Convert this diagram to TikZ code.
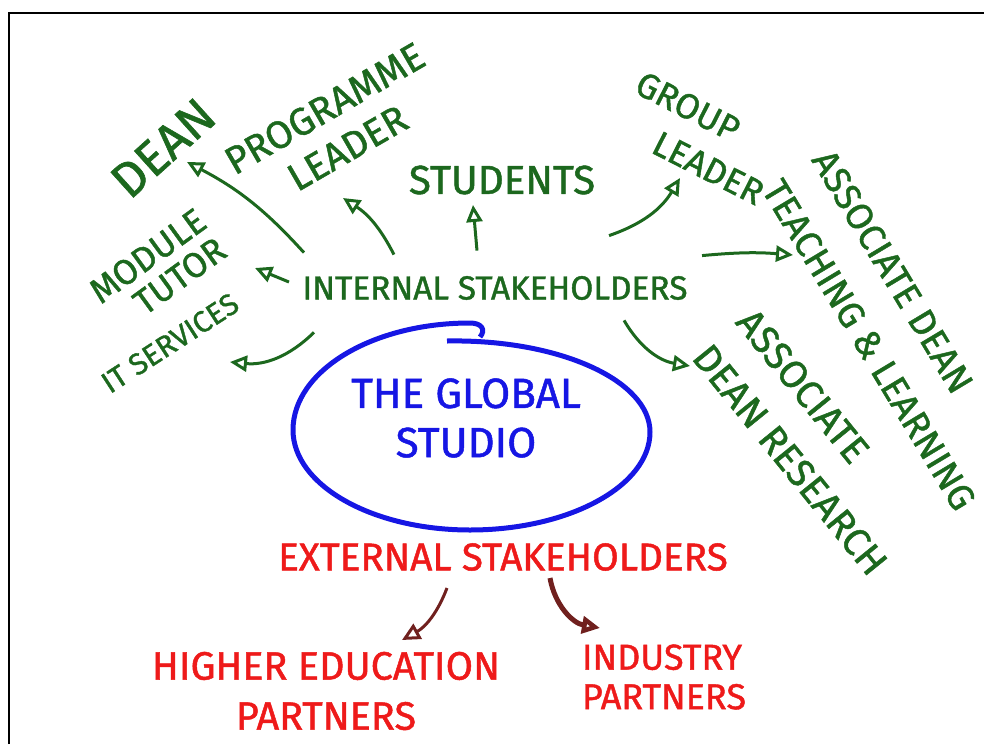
\documentclass[tikz,border=0pt]{standalone}
\usepackage{fontspec}
\setmainfont{Fira Sans}
\newfontfamily\penfont{Fira Sans}[FakeBold=1.2]
\usetikzlibrary{arrows.meta}
\definecolor{pengreen}{RGB}{28,104,30}
\definecolor{penblue}{RGB}{22,22,228}
\definecolor{penred}{RGB}{238,26,26}
\definecolor{penbrown}{RGB}{112,32,30}

\begin{document}
\begin{tikzpicture}[x=0.2mm,y=-0.2mm,line width=0.6mm,
  grn/.style={text=pengreen,inner sep=0pt,font=\penfont\fontsize{#1}{#1}\selectfont},
  rd/.style={text=penred,inner sep=0pt,font=\penfont\fontsize{#1}{#1}\selectfont},
  arr/.style={draw=pengreen,-{Triangle[open,length=3.4mm,width=3.2mm]}},
  darr/.style={draw=penbrown,-{Triangle[open,length=3.6mm,width=3.4mm]}}]
  \useasboundingbox (0,0) rectangle (984,744);
  \draw[line width=0.4mm] (9,744) -- (9,13) -- (984,13);

  \node[grn=19]                                  (int)   at (495,288) {INTERNAL STAKEHOLDERS};
  \node[grn=28,rotate=42]                        (dean)  at (163,148) {DEAN};
  \node[grn=22,rotate=30,align=center]           (prog)  at (336,128) {PROGRAMME\\[4pt]LEADER};
  \node[grn=23]                                  (stud)  at (502,180) {STUDENTS};
  \node[grn=20,rotate=-27,align=left]            (group) at (700,138) {GROUP\\[6pt]\hspace*{1.2em}LEADER};
  \node[grn=21,rotate=-59,align=left]            (adtl)  at (894,330) {ASSOCIATE DEAN\\[12pt]TEACHING \& LEARNING};
  \node[grn=22,rotate=-51,align=left]            (adr)   at (812,442) {ASSOCIATE\\[10pt]DEAN RESEARCH};
  \node[grn=20,rotate=36,align=center]           (mod)   at (158,270) {MODULE\\[0pt]\hspace*{0.8em}TUTOR};
  \node[grn=17,rotate=33]                        (its)   at (170,343) {IT SERVICES};

  \node[text=penblue,inner sep=0pt,align=center,
        font=\penfont\fontsize{24}{24}\selectfont]  (globe) at (466,418) {THE GLOBAL\\[4pt]STUDIO};
  \draw[penblue,line width=1mm] (447,341) .. controls (560,339) and (650,381) .. (650,432)
        .. controls (650,486) and (569,530) .. (470,530)
        .. controls (372,530) and (293,485) .. (293,430)
        .. controls (293,371) and (372,323) .. (470,323)
        .. controls (482,323) and (486,330) .. (480,337);

  \node[rd=22]                                   (ext)   at (503,557) {EXTERNAL STAKEHOLDERS};
  \node[rd=22.5,align=center]                    (he)    at (326,691) {HIGHER EDUCATION\\[6pt]PARTNERS};
  \node[rd=20.5,align=left]                      (ind)   at (664,677) {INDUSTRY\\[2pt]PARTNERS};

  \path ([shift={(3,-22)}]int.north west)   edge[arr,bend right=10] ([shift={(24,14)}]dean.center)
        ([shift={(93,-20)}]int.north west)  edge[arr,bend right=15] ([shift={(7,70)}]prog.center)
        ([shift={(-18,-24)}]int.north)      edge[arr]               ([shift={(-29,25)}]stud.center)
        ([shift={(-80,-39)}]int.north east) edge[arr,bend right=20] ([shift={(-20,40)}]group.center)
        ([shift={(13,-19)}]int.north east)  edge[arr,bend left=5]   ([shift={(-101,-75)}]adtl.center)
        ([shift={(-65,19)}]int.south east)  edge[arr,bend right=25] ([shift={(-122,-76)}]adr.center)
        ([shift={(-12,-6)}]int.west)        edge[arr]               ([shift={(97,-2)}]mod.center)
        ([shift={(13,31)}]int.south west)   edge[arr,bend left=25]  ([shift={(60,19)}]its.center);
  \path ([shift={(-56,31)}]ext.center) edge[darr,bend left=20] ([shift={(76,-51)}]he.center)
        ([shift={(47,21)}]ext.center)  edge[darr,line width=1mm,bend right=35] ([shift={(-64,-49)}]ind.center);
\end{tikzpicture}
\end{document}
